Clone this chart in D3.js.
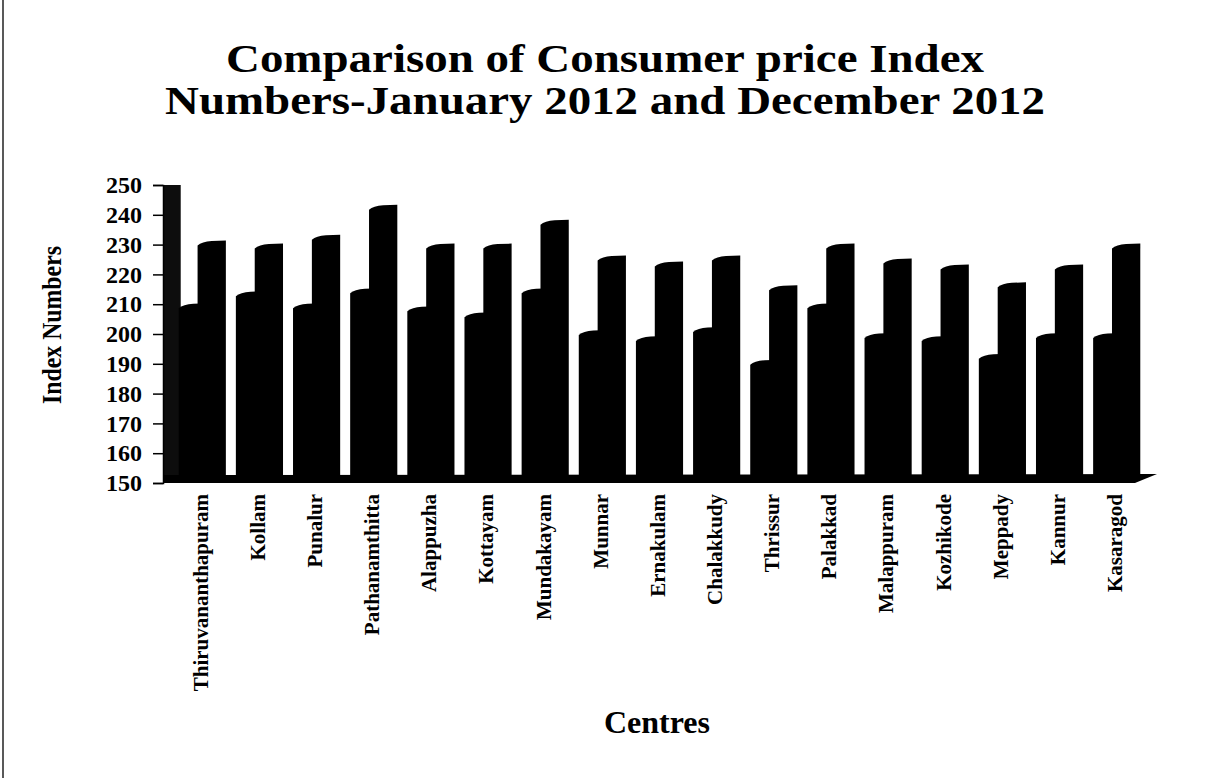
<!DOCTYPE html>
<html>
<head>
<meta charset="utf-8">
<script src="https://cdn.jsdelivr.net/npm/d3@7"></script>
<style>
  html, body { margin: 0; padding: 0; background: #fff; }
  svg { display: block; }
  text { font-family: "Liberation Serif", "Times New Roman", serif; fill: #000; }
</style>
</head>
<body>
<svg id="chart" width="1214" height="778"></svg>
<script>
// ---- data ----
const centres = ["Thiruvananthapuram","Kollam","Punalur","Pathanamthitta","Alappuzha","Kottayam","Mundakayam","Munnar","Ernakulam","Chalakkudy","Thrissur","Palakkad","Malappuram","Kozhikode","Meppady","Kannur","Kasaragod"];
const jan2012 = [210, 214, 210, 215, 209, 207, 215, 201, 199, 202, 191, 210, 200, 199, 193, 200, 200];
const dec2012 = [231, 230, 233, 243, 230, 230, 238, 226, 224, 226, 216, 230, 225, 223, 217, 223, 230];
const yTicks = [150, 160, 170, 180, 190, 200, 210, 220, 230, 240, 250];
const titleLines = ["Comparison of Consumer price Index", "Numbers-January 2012 and December 2012"];
const yTitle = "Index Numbers";
const xTitle = "Centres";

// ---- layout ----
const svg = d3.select("#chart");
const W = 1214, H = 778;
const plotLeft = 163, plotTop = 185, plotBottom = 483, barBase = 475;

const x = d3.scaleBand().domain(centres).range([173, 1146]).paddingInner(0.175).paddingOuter(0.1);
const y = d3.scaleLinear().domain([150, 250]).range([plotBottom, plotTop]);

// left page border (scan edge)
svg.append("line").attr("x1", 3).attr("x2", 3).attr("y1", 0).attr("y2", H)
  .attr("stroke", "#222").attr("stroke-width", 1.5);

// title
svg.append("g").selectAll("text").data(titleLines).join("text")
  .attr("x", 605).attr("y", (d, i) => 72 + i * 42)
  .attr("text-anchor", "middle")
  .attr("font-size", 41).attr("font-weight", "bold")
  .attr("textLength", (d, i) => i === 0 ? 758 : 880)
  .attr("lengthAdjust", "spacingAndGlyphs")
  .text(d => d);

// side wall (dark)
svg.append("rect").attr("x", plotLeft).attr("y", y(250)).attr("width", x(centres[0]) - plotLeft + 2)
  .attr("height", plotBottom - y(250)).attr("fill", "#0d0d0d");

// floor
svg.append("path")
  .attr("d", `M${plotLeft},${barBase} L1157,${barBase - 1} L1135,${plotBottom} L${plotLeft},${plotBottom} Z`)
  .attr("fill", "#000");

// y axis
const yAxis = d3.axisLeft(y).tickValues(yTicks).tickSize(10).tickPadding(11).tickFormat(d3.format("d"));
const gy = svg.append("g").attr("transform", `translate(${plotLeft},0)`).call(yAxis);
gy.select(".domain").attr("stroke", "#000").attr("stroke-width", 1.5);
gy.selectAll(".tick line").attr("stroke", "#000").attr("stroke-width", 1.5);
gy.selectAll(".tick text").attr("font-family", "Liberation Serif, serif").attr("font-size", 24)
  .attr("font-weight", "bold").attr("fill", "#000");

// bars
function barPath(x0, w, v) {
  const t = y(v);
  return `M${x0},${barBase} L${x0},${t + 4} Q${x0 + w * 0.15},${t} ${x0 + w * 0.5},${t - 0.5} L${x0 + w},${t - 1} L${x0 + w},${barBase} Z`;
}
const bw = x.bandwidth();
const groups = svg.append("g").selectAll("g").data(centres).join("g");
groups.append("path").attr("fill", "#000")
  .attr("d", (d, i) => barPath(x(d), bw * 0.62, jan2012[i]));
groups.append("path").attr("fill", "#000")
  .attr("d", (d, i) => barPath(x(d) + bw * 0.4, bw * 0.6, dec2012[i]));

// x labels
svg.append("g").selectAll("text").data(centres).join("text")
  .attr("transform", d => `translate(${x(d) + bw / 2 - 2},494) rotate(-90)`)
  .attr("text-anchor", "end").attr("dy", "0.35em")
  .attr("font-size", 21).attr("font-weight", "bold")
  .text(d => d);

// axis titles
svg.append("text").attr("transform", "translate(52,325) rotate(-90)")
  .attr("text-anchor", "middle").attr("dy", "0.35em")
  .attr("font-size", 27).attr("font-weight", "bold")
  .attr("textLength", 158).attr("lengthAdjust", "spacingAndGlyphs").text(yTitle);
svg.append("text").attr("x", 657).attr("y", 733).attr("text-anchor", "middle")
  .attr("font-size", 32).attr("font-weight", "bold").text(xTitle);
</script>
</body>
</html>
